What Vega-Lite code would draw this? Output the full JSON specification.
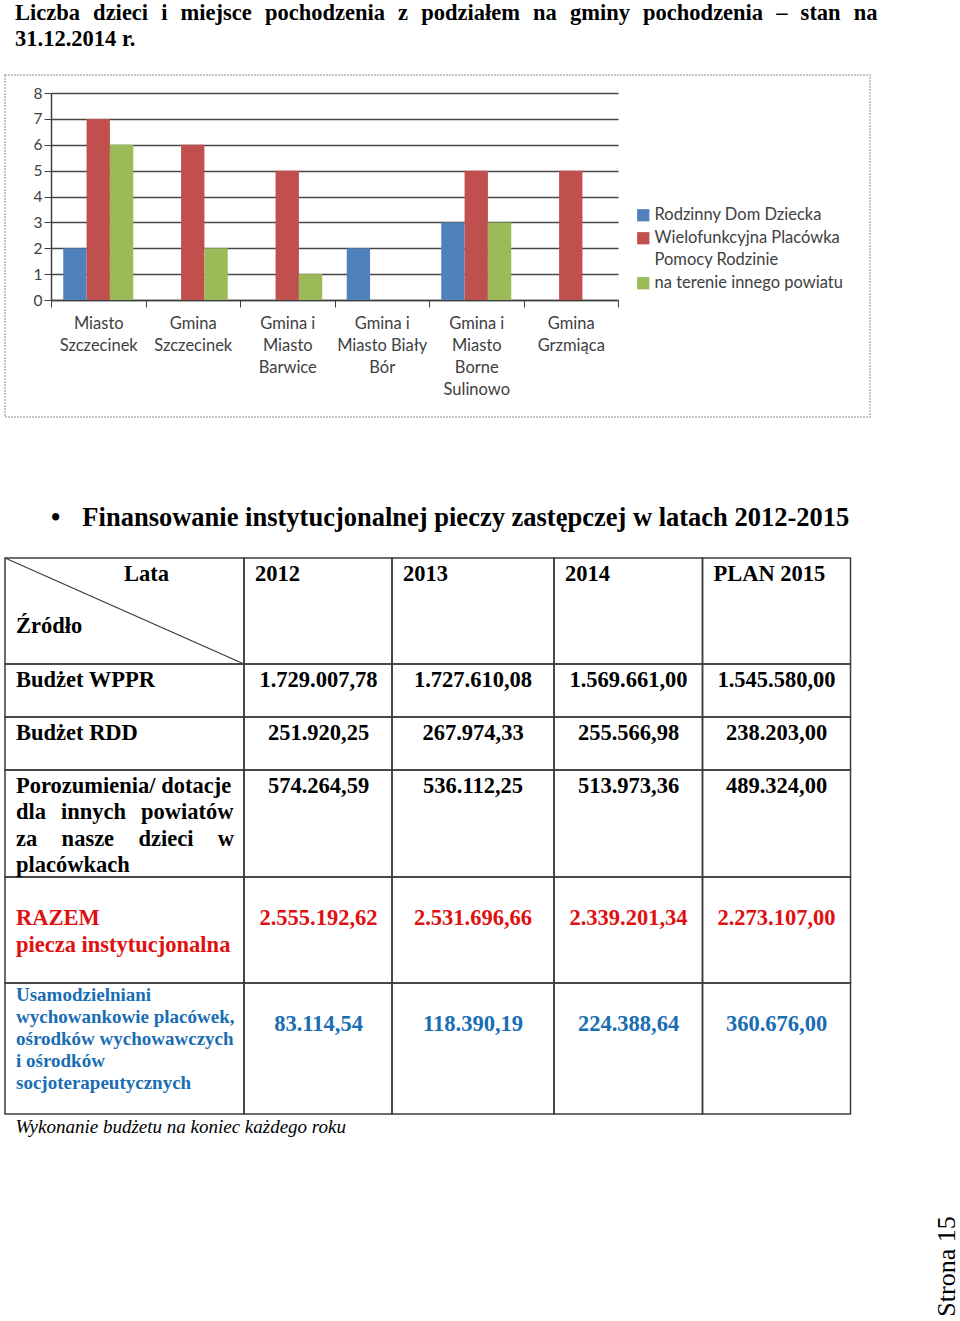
{
  "$schema": "https://vega.github.io/schema/vega-lite/v6.json",
  "padding": {"left": 4, "top": 0, "right": 2, "bottom": 0},
  "spacing": 86,
  "background": "white",
  "config": {"view": {"stroke": null}, "style": {"guide-label": {"lineHeight": 22}}},
  "vconcat": [
    {
      "width": 865,
      "height": 342,
      "view": {"stroke": "#b4b4b4", "strokeDash": [2, 1], "strokeWidth": 1.5},
      "title": {
        "text": ["Liczba\u2004\u2005dzieci\u2004\u2005i\u2004\u2005miejsce\u2004\u2005pochodzenia\u2004\u2005z\u2004\u2005podziałem\u2004\u2005na\u2004\u2005gminy\u2004\u2005pochodzenia\u2004\u2005–\u2004\u2005stan\u2004\u2005na", "31.12.2014 r."],
        "anchor": "start",
        "frame": "group",
        "dx": 10,
        "font": "Liberation Serif",
        "fontSize": 22.5,
        "fontWeight": "bold",
        "color": "#000000",
        "lineHeight": 26,
        "offset": 25
      },
      "data": {
        "values": [
          {"gmina": "Miasto\nSzczecinek", "typ": "Rodzinny Dom Dziecka", "liczba": 2},
          {"gmina": "Miasto\nSzczecinek", "typ": "Wielofunkcyjna Placówka\nPomocy Rodzinie", "liczba": 7},
          {"gmina": "Miasto\nSzczecinek", "typ": "na terenie innego powiatu", "liczba": 6},
          {"gmina": "Gmina\nSzczecinek", "typ": "Wielofunkcyjna Placówka\nPomocy Rodzinie", "liczba": 6},
          {"gmina": "Gmina\nSzczecinek", "typ": "na terenie innego powiatu", "liczba": 2},
          {"gmina": "Gmina i\nMiasto\nBarwice", "typ": "Wielofunkcyjna Placówka\nPomocy Rodzinie", "liczba": 5},
          {"gmina": "Gmina i\nMiasto\nBarwice", "typ": "na terenie innego powiatu", "liczba": 1},
          {"gmina": "Gmina i\nMiasto Biały\nBór", "typ": "Rodzinny Dom Dziecka", "liczba": 2},
          {"gmina": "Gmina i\nMiasto\nBorne\nSulinowo", "typ": "Rodzinny Dom Dziecka", "liczba": 3},
          {"gmina": "Gmina i\nMiasto\nBorne\nSulinowo", "typ": "Wielofunkcyjna Placówka\nPomocy Rodzinie", "liczba": 5},
          {"gmina": "Gmina i\nMiasto\nBorne\nSulinowo", "typ": "na terenie innego powiatu", "liczba": 3},
          {"gmina": "Gmina\nGrzmiąca", "typ": "Wielofunkcyjna Placówka\nPomocy Rodzinie", "liczba": 5}
        ]
      },
      "mark": {"type": "bar"},
      "encoding": {
        "x": {
          "field": "gmina",
          "type": "nominal",
          "sort": null,
          "scale": {"range": [46, 613], "paddingInner": 0, "paddingOuter": 0},
          "axis": {
            "orient": "bottom",
            "offset": -117,
            "title": null,
            "labelAngle": 0,
            "labelExpr": "split(datum.label, '\\n')",
            "labelLineHeight": 22,
            "labelFont": "Lato",
            "labelFontSize": 16.5,
            "labelColor": "#404040",
            "labelOverlap": false,
            "labelPadding": 8,
            "tickBand": "extent",
            "tickSize": 7,
            "tickColor": "#404040",
            "domainColor": "#404040",
            "domainWidth": 1.5
          }
        },
        "xOffset": {
          "field": "typ",
          "type": "nominal",
          "scale": {
            "domain": ["Rodzinny Dom Dziecka", "Wielofunkcyjna Placówka\nPomocy Rodzinie", "na terenie innego powiatu"],
            "paddingInner": 0,
            "paddingOuter": 0.525
          }
        },
        "y": {
          "field": "liczba",
          "type": "quantitative",
          "scale": {"domain": [0, 8], "range": [225, 18], "nice": false},
          "axis": {
            "offset": -46,
            "title": null,
            "values": [0, 1, 2, 3, 4, 5, 6, 7, 8],
            "grid": true,
            "gridColor": "#484848",
            "gridWidth": 1.4,
            "domainColor": "#404040",
            "domainWidth": 1.5,
            "tickColor": "#404040",
            "tickSize": 7,
            "labelPadding": 2,
            "labelFont": "Lato",
            "labelFontSize": 15.5,
            "labelColor": "#404040"
          }
        },
        "color": {
          "field": "typ",
          "type": "nominal",
          "scale": {
            "domain": ["Rodzinny Dom Dziecka", "Wielofunkcyjna Placówka\nPomocy Rodzinie", "na terenie innego powiatu"],
            "range": ["#4F81BD", "#C0504D", "#9BBB59"]
          },
          "legend": {
            "orient": "none",
            "legendX": 630,
            "legendY": 132,
            "title": null,
            "symbolType": "square",
            "symbolSize": 150,
            "symbolStrokeWidth": 0,
            "labelFont": "Lato",
            "labelFontSize": 16.5,
            "labelColor": "#404040",
            "labelLimit": 400,
            "labelExpr": "split(datum.label, '\\n')",
            "labelOffset": 3,
            "rowPadding": 6,
            "padding": 0
          }
        }
      }
    },
    {
      "width": 846,
      "height": 556,
      "view": {"stroke": null},
      "title": {
        "text": "•\u2002\u2004Finansowanie instytucjonalnej pieczy zastępczej w latach 2012-2015",
        "anchor": "start",
        "frame": "group",
        "dx": 46,
        "font": "Liberation Serif",
        "fontSize": 26.5,
        "fontWeight": "bold",
        "color": "#000000",
        "offset": 26
      },
      "data": {
        "values": [
          {"r": 0, "r1": 1, "c": 0, "c1": 1, "txt": "Lata", "txt2": "Źródło"},
          {"r": 0, "r1": 1, "c": 1, "c1": 2, "txt": "2012"},
          {"r": 0, "r1": 1, "c": 2, "c1": 3, "txt": "2013"},
          {"r": 0, "r1": 1, "c": 3, "c1": 4, "txt": "2014"},
          {"r": 0, "r1": 1, "c": 4, "c1": 5, "txt": "PLAN 2015"},
          {"r": 1, "r1": 2, "c": 0, "c1": 1, "txt": "Budżet WPPR"},
          {"r": 1, "r1": 2, "c": 1, "c1": 2, "txt": "1.729.007,78"},
          {"r": 1, "r1": 2, "c": 2, "c1": 3, "txt": "1.727.610,08"},
          {"r": 1, "r1": 2, "c": 3, "c1": 4, "txt": "1.569.661,00"},
          {"r": 1, "r1": 2, "c": 4, "c1": 5, "txt": "1.545.580,00"},
          {"r": 2, "r1": 3, "c": 0, "c1": 1, "txt": "Budżet RDD"},
          {"r": 2, "r1": 3, "c": 1, "c1": 2, "txt": "251.920,25"},
          {"r": 2, "r1": 3, "c": 2, "c1": 3, "txt": "267.974,33"},
          {"r": 2, "r1": 3, "c": 3, "c1": 4, "txt": "255.566,98"},
          {"r": 2, "r1": 3, "c": 4, "c1": 5, "txt": "238.203,00"},
          {"r": 3, "r1": 4, "c": 0, "c1": 1, "txt": "Porozumienia/ dotacje\ndla\u2004\u2004innych\u2004\u2004powiatów\nza\u2003\u200Anasze\u2003\u200Adzieci\u2003\u200Aw\nplacówkach"},
          {"r": 3, "r1": 4, "c": 1, "c1": 2, "txt": "574.264,59"},
          {"r": 3, "r1": 4, "c": 2, "c1": 3, "txt": "536.112,25"},
          {"r": 3, "r1": 4, "c": 3, "c1": 4, "txt": "513.973,36"},
          {"r": 3, "r1": 4, "c": 4, "c1": 5, "txt": "489.324,00"},
          {"r": 4, "r1": 5, "c": 0, "c1": 1, "txt": "RAZEM\npiecza instytucjonalna"},
          {"r": 4, "r1": 5, "c": 1, "c1": 2, "txt": "2.555.192,62"},
          {"r": 4, "r1": 5, "c": 2, "c1": 3, "txt": "2.531.696,66"},
          {"r": 4, "r1": 5, "c": 3, "c1": 4, "txt": "2.339.201,34"},
          {"r": 4, "r1": 5, "c": 4, "c1": 5, "txt": "2.273.107,00"},
          {"r": 5, "r1": 6, "c": 0, "c1": 1, "txt": "Usamodzielniani\nwychowankowie placówek,\nośrodków wychowawczych\ni ośrodków\nsocjoterapeutycznych"},
          {"r": 5, "r1": 6, "c": 1, "c1": 2, "txt": "83.114,54"},
          {"r": 5, "r1": 6, "c": 2, "c1": 3, "txt": "118.390,19"},
          {"r": 5, "r1": 6, "c": 3, "c1": 4, "txt": "224.388,64"},
          {"r": 5, "r1": 6, "c": 4, "c1": 5, "txt": "360.676,00"}
        ]
      },
      "resolve": {"scale": {"x": "independent"}, "axis": {"x": "independent", "y": "independent"}},
      "layer": [
        {
          "mark": {"type": "rect", "fill": "transparent", "stroke": "#3c3c3c", "strokeWidth": 1.5},
          "encoding": {
            "x": {
              "field": "c", "type": "quantitative",
              "scale": {"domain": [0, 1, 2, 3, 4, 5], "range": [0, 239, 387, 549, 697.5, 845.5], "nice": false, "zero": false},
              "axis": {
                "orient": "bottom", "domain": false, "ticks": false, "labels": false, "grid": false,
                "title": "Wykonanie budżetu na koniec każdego roku",
                "titleFont": "Liberation Serif", "titleFontSize": 19, "titleFontStyle": "italic", "titleFontWeight": "normal",
                "titleColor": "#000000", "titleAnchor": "start", "titleAlign": "left", "titleBaseline": "alphabetic",
                "titleX": 10, "titleY": 18
              }
            },
            "x2": {"field": "c1"},
            "y": {
              "field": "r", "type": "quantitative",
              "scale": {"domain": [0, 1, 2, 3, 4, 5, 6], "range": [0, 106, 159, 212, 319, 425, 556], "nice": false, "zero": false},
              "axis": {
                "orient": "right", "domain": false, "ticks": false, "labels": false, "grid": false,
                "title": "Strona 15",
                "titleFont": "Liberation Serif", "titleFontSize": 26, "titleFontWeight": "normal", "titleColor": "#000000",
                "titleAngle": 270, "titleAlign": "center", "titleBaseline": "alphabetic",
                "titleX": 103, "titleY": 708
              }
            },
            "y2": {"field": "r1"}
          }
        },
        {
          "transform": [{"filter": "datum.r == 0 && datum.c == 0"}],
          "mark": {"type": "rule", "stroke": "#3c3c3c", "strokeWidth": 1.3},
          "encoding": {
            "x": {"field": "c", "type": "quantitative", "scale": {"domain": [0, 1, 2, 3, 4, 5], "range": [0, 239, 387, 549, 697.5, 845.5], "nice": false, "zero": false}, "axis": null},
            "x2": {"field": "c1"},
            "y": {"field": "r", "type": "quantitative", "axis": null},
            "y2": {"field": "r1"}
          }
        },
        {
          "transform": [{"filter": "datum.r == 0 && datum.c > 0"}],
          "mark": {"type": "text", "font": "Liberation Serif", "fontWeight": "bold", "fontSize": 22.5, "baseline": "alphabetic", "align": "left", "dx": 11, "dy": 23, "color": "#000000"},
          "encoding": {
            "x": {"field": "c", "type": "quantitative", "scale": {"domain": [0, 1, 2, 3, 4, 5], "range": [0, 239, 387, 549, 697.5, 845.5], "nice": false, "zero": false}, "axis": null},
            "y": {"field": "r", "type": "quantitative", "axis": null},
            "text": {"field": "txt"}
          }
        },
        {
          "transform": [{"filter": "datum.r == 0 && datum.c == 0"}],
          "mark": {"type": "text", "font": "Liberation Serif", "fontWeight": "bold", "fontSize": 22.5, "baseline": "alphabetic", "align": "left", "dx": 119, "dy": 23, "color": "#000000"},
          "encoding": {
            "x": {"field": "c", "type": "quantitative", "scale": {"domain": [0, 1, 2, 3, 4, 5], "range": [0, 239, 387, 549, 697.5, 845.5], "nice": false, "zero": false}, "axis": null},
            "y": {"field": "r", "type": "quantitative", "axis": null},
            "text": {"field": "txt"}
          }
        },
        {
          "transform": [{"filter": "datum.r == 0 && datum.c == 0"}],
          "mark": {"type": "text", "font": "Liberation Serif", "fontWeight": "bold", "fontSize": 22.5, "baseline": "alphabetic", "align": "left", "dx": 11, "dy": 75, "color": "#000000"},
          "encoding": {
            "x": {"field": "c", "type": "quantitative", "scale": {"domain": [0, 1, 2, 3, 4, 5], "range": [0, 239, 387, 549, 697.5, 845.5], "nice": false, "zero": false}, "axis": null},
            "y": {"field": "r", "type": "quantitative", "axis": null},
            "text": {"field": "txt2"}
          }
        },
        {
          "transform": [{"filter": "datum.c == 0 && datum.r >= 1 && datum.r <= 3"}],
          "mark": {"type": "text", "font": "Liberation Serif", "fontWeight": "bold", "fontSize": 22.5, "baseline": "alphabetic", "align": "left", "dx": 11, "dy": 22.5, "lineBreak": "\n", "lineHeight": 26.5, "color": "#000000"},
          "encoding": {
            "x": {"field": "c", "type": "quantitative", "scale": {"domain": [0, 1, 2, 3, 4, 5], "range": [0, 239, 387, 549, 697.5, 845.5], "nice": false, "zero": false}, "axis": null},
            "y": {"field": "r", "type": "quantitative", "axis": null},
            "text": {"field": "txt"}
          }
        },
        {
          "transform": [{"filter": "datum.c == 0 && datum.r == 4"}],
          "mark": {"type": "text", "font": "Liberation Serif", "fontWeight": "bold", "fontSize": 22.5, "baseline": "alphabetic", "align": "left", "dx": 11, "dy": 47.5, "lineBreak": "\n", "lineHeight": 27, "color": "#E01010"},
          "encoding": {
            "x": {"field": "c", "type": "quantitative", "scale": {"domain": [0, 1, 2, 3, 4, 5], "range": [0, 239, 387, 549, 697.5, 845.5], "nice": false, "zero": false}, "axis": null},
            "y": {"field": "r", "type": "quantitative", "axis": null},
            "text": {"field": "txt"}
          }
        },
        {
          "transform": [{"filter": "datum.c == 0 && datum.r == 5"}],
          "mark": {"type": "text", "font": "Liberation Serif", "fontWeight": "bold", "fontSize": 19, "baseline": "alphabetic", "align": "left", "dx": 11, "dy": 18, "lineBreak": "\n", "lineHeight": 22, "color": "#1A6DB3"},
          "encoding": {
            "x": {"field": "c", "type": "quantitative", "scale": {"domain": [0, 1, 2, 3, 4, 5], "range": [0, 239, 387, 549, 697.5, 845.5], "nice": false, "zero": false}, "axis": null},
            "y": {"field": "r", "type": "quantitative", "axis": null},
            "text": {"field": "txt"}
          }
        },
        {
          "transform": [{"filter": "datum.c > 0 && datum.r >= 1 && datum.r <= 3"}],
          "mark": {"type": "text", "font": "Liberation Serif", "fontWeight": "bold", "fontSize": 22.5, "baseline": "alphabetic", "align": "center", "dy": 22.5, "color": "#000000"},
          "encoding": {
            "x": {"field": "c", "type": "quantitative", "scale": {"domain": [1, 2, 3, 4], "range": [313.5, 468, 623.5, 771.5], "nice": false, "zero": false}, "axis": null},
            "y": {"field": "r", "type": "quantitative", "axis": null},
            "text": {"field": "txt"}
          }
        },
        {
          "transform": [{"filter": "datum.c > 0 && datum.r == 4"}],
          "mark": {"type": "text", "font": "Liberation Serif", "fontWeight": "bold", "fontSize": 22.5, "baseline": "alphabetic", "align": "center", "dy": 47.5, "color": "#E01010"},
          "encoding": {
            "x": {"field": "c", "type": "quantitative", "scale": {"domain": [1, 2, 3, 4], "range": [313.5, 468, 623.5, 771.5], "nice": false, "zero": false}, "axis": null},
            "y": {"field": "r", "type": "quantitative", "axis": null},
            "text": {"field": "txt"}
          }
        },
        {
          "transform": [{"filter": "datum.c > 0 && datum.r == 5"}],
          "mark": {"type": "text", "font": "Liberation Serif", "fontWeight": "bold", "fontSize": 22.5, "baseline": "alphabetic", "align": "center", "dy": 48, "color": "#1A6DB3"},
          "encoding": {
            "x": {"field": "c", "type": "quantitative", "scale": {"domain": [1, 2, 3, 4], "range": [313.5, 468, 623.5, 771.5], "nice": false, "zero": false}, "axis": null},
            "y": {"field": "r", "type": "quantitative", "axis": null},
            "text": {"field": "txt"}
          }
        }
      ]
    }
  ]
}
